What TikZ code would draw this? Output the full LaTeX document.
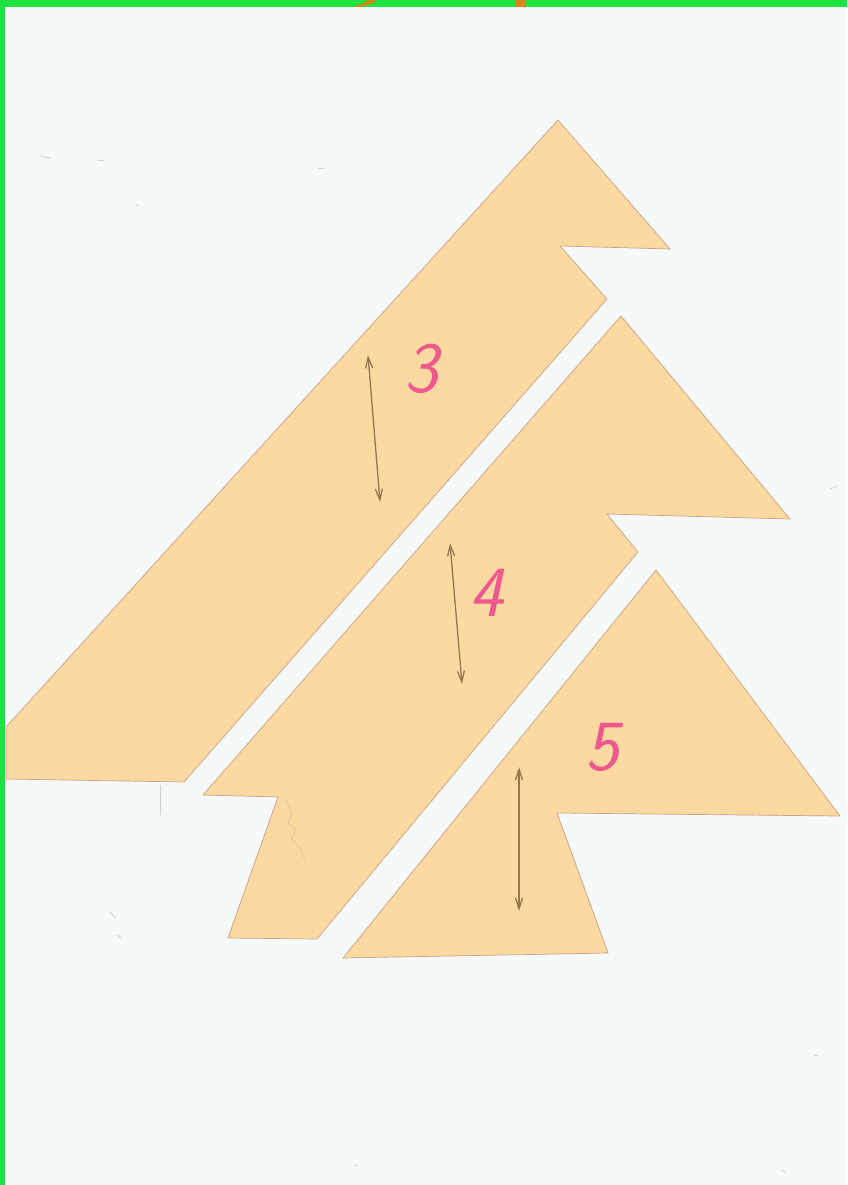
\documentclass[tikz,border=0pt]{standalone}
\usetikzlibrary{arrows.meta}
\definecolor{paper}{RGB}{246,249,250}
\definecolor{framegreen}{RGB}{30,226,64}
\definecolor{piece}{RGB}{253,217,162}
\definecolor{pieceedge}{RGB}{205,160,130}
\definecolor{pencil}{RGB}{150,118,80}
\definecolor{numpink}{RGB}{238,88,140}
\definecolor{orangemark}{RGB}{212,135,20}
\definecolor{speckgray}{RGB}{205,209,211}
\definecolor{scribble}{RGB}{225,195,160}
\tikzset{
  paperpiece/.style={fill=piece, draw=pieceedge, line width=0.7pt, line join=miter},
  grainarrow/.style={draw=pencil, line width=1.3pt, {Straight Barb[length=11pt,width=7pt]}-{Straight Barb[length=11pt,width=7pt]}},
  numlabel/.style={text=numpink, font=\fontsize{72}{72}\selectfont\sffamily\itshape, inner sep=0pt},
  speckmark/.style={draw=speckgray, line width=0.8pt, line cap=round}
}
\begin{document}
\begin{tikzpicture}[x=1pt,y=-1pt]
\useasboundingbox (0,0) rectangle (847,1185);
% background and scan frame
\fill[paper] (0,0) rectangle (847,1185);
\fill[framegreen] (0,0) rectangle (847,7);
\fill[framegreen] (0,0) rectangle (5,1185);
\fill[orangemark] (352,7) -- (360,7) .. controls (368,5) and (374,3) .. (377,0) -- (368,0) .. controls (365,3) and (360,5) .. (352,7) -- cycle;
\fill[orangemark] (516,0) rectangle (525,7);

% faint specks on the scan
\draw[speckmark] (40,156) -- (50,158);
\draw[speckmark] (98,160) -- (104,160);
\draw[speckmark] (318,168) -- (324,168);
\draw[speckmark] (136,205) -- (138,206);
\draw[speckmark] (830,489) -- (837,486);
\draw[speckmark] (110,912) -- (116,918);
\draw[speckmark] (118,935) -- (121,938);
\draw[speckmark, line width=0.5pt] (160,785) -- (160,815);
\draw[speckmark] (815,1055) -- (818,1055);
\draw[speckmark] (782,1170) -- (785,1172);
\draw[speckmark] (355,1165) -- (358,1166);

% piece 3 (top)
\coordinate (p3a) at (558,120);
\coordinate (p3b) at (670,249);
\coordinate (p3c) at (560,246);
\coordinate (p3d) at (607,299);
\coordinate (p3e) at (184,782);
\coordinate (p3f) at (6,779);
\coordinate (p3g) at (6,727);
\draw[paperpiece] (p3a) -- (p3b) -- (p3c) -- (p3d) -- (p3e) -- (p3f) -- (p3g) -- cycle;

% piece 4 (middle)
\coordinate (p4a) at (621,316);
\coordinate (p4b) at (790,519);
\coordinate (p4c) at (607,514);
\coordinate (p4d) at (638,552);
\coordinate (p4e) at (317,939);
\coordinate (p4f) at (228,938);
\coordinate (p4g) at (278,797);
\coordinate (p4h) at (203,795);
\draw[paperpiece] (p4a) -- (p4b) -- (p4c) -- (p4d) -- (p4e) -- (p4f) -- (p4g) -- (p4h) -- cycle;
% faint pencil scribble
\draw[scribble, line width=0.6pt] (286,800) -- (292,815) -- (288,822) -- (296,830) -- (291,838) -- (300,848) -- (305,860);

% piece 5 (bottom)
\coordinate (p5a) at (656,570);
\coordinate (p5b) at (840,816);
\coordinate (p5c) at (557,813);
\coordinate (p5d) at (608,953);
\coordinate (p5e) at (343,958);
\draw[paperpiece] (p5a) -- (p5b) -- (p5c) -- (p5d) -- (p5e) -- cycle;

% grain arrows
\coordinate (g3t) at (368,355);
\coordinate (g3b) at (380,502);
\draw[grainarrow] (g3t) -- (g3b);
\coordinate (g4t) at (450,543);
\coordinate (g4b) at (462,684);
\draw[grainarrow] (g4t) -- (g4b);
\coordinate (g5t) at (519,767);
\coordinate (g5b) at (519,911);
\draw[grainarrow] (g5t) -- (g5b);

% piece numbers
\node[numlabel] (n3) at (421,369) {3};
\node[numlabel] (n4) at (486,593) {4};
\node[numlabel] (n5) at (602,747) {5};
\end{tikzpicture}
\end{document}
